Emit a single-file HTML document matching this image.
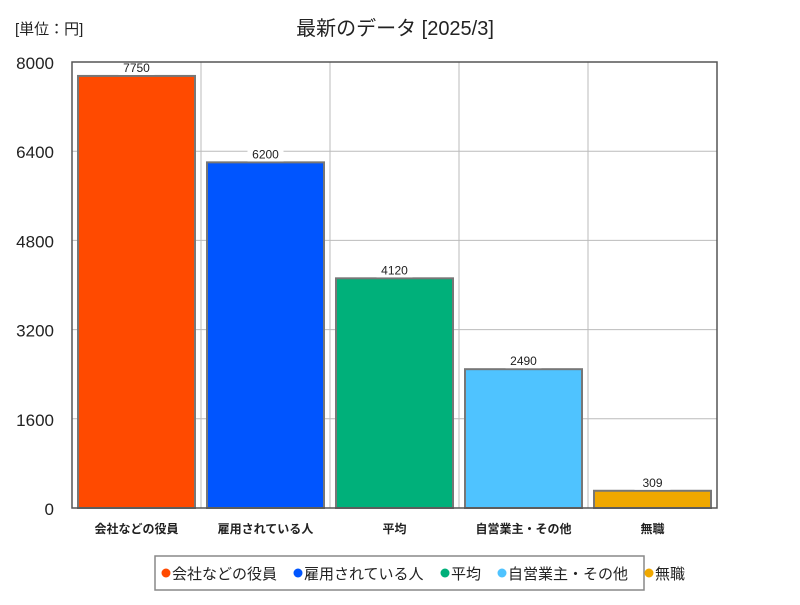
<!DOCTYPE html>
<html><head><meta charset="utf-8"><style>
body{margin:0;background:#fff;font-family:"Liberation Sans","Noto Sans CJK JP",sans-serif}
svg text{font-family:"Liberation Sans","Noto Sans CJK JP",sans-serif}
</style></head><body>
<svg id="c" width="800" height="600">
<text x="395" y="35" text-anchor="middle" font-size="20" fill="#222">最新のデータ [2025/3]</text>
<text x="15" y="34" font-size="15" fill="#222">[単位：円]</text>
<g id="grid"></g><g id="bars"></g><g id="axes"></g>
<g>
<rect x="155" y="556" width="489" height="34" fill="#fff" stroke="#888" stroke-width="1.5"></rect>
<g id="leg"></g></g>
</svg>
<script>
const categories=["会社などの役員","雇用されている人","平均","自営業主・その他","無職"];
const values=[7750,6200,4120,2490,309];
const colors=["#ff4a00","#0055ff","#00b07a","#4fc3ff","#f0a800"];
const yTicks=[0,1600,3200,4800,6400,8000];
const X0=72,X1=717,Y0=508,Y1=62,YMAX=8000;
const ns="http://www.w3.org/2000/svg";
const bw=(X1-X0)/categories.length;
function y(v){return Y0-(v/YMAX)*(Y0-Y1);}
function mk(t,a,p,txt){const e=document.createElementNS(ns,t);for(const k in a)e.setAttribute(k,a[k]);if(txt!==undefined)e.textContent=txt;p.appendChild(e);return e;}
const grid=document.getElementById('grid'),bars=document.getElementById('bars'),axes=document.getElementById('axes'),leg=document.getElementById('leg');
yTicks.forEach(t=>{
 const l=mk('line',{x1:X0,x2:X1,y1:y(t),y2:y(t),stroke:'#bbb'},grid);
 
 
 const tx=mk('text',{x:54,y:y(t)+7,'text-anchor':'end','font-size':17,fill:'#222'},axes,String(t));
 
 
});
for(let i=1;i<categories.length;i++){
 const l=mk('line',{x1:X0+i*bw,x2:X0+i*bw,y1:Y1,y2:Y0,stroke:'#bbb'},grid);
 
 
}
categories.forEach((c,i)=>{
 const x=X0+i*bw+6,w=bw-12;
 const r=mk('rect',{x:x,y:y(values[i]),width:w,height:Y0-y(values[i]),fill:colors[i],stroke:'#777','stroke-width':2},bars);
 
 
 const cx=X0+i*bw+bw/2;
 const bg=mk('rect',{x:cx-18,y:y(values[i])-15,width:36,height:14,fill:'#fff'},bars);
 
 
 const vt=mk('text',{x:cx,y:y(values[i])-4,'text-anchor':'middle','font-size':12,fill:'#222'},bars,String(values[i]));
 
 
 const ct=mk('text',{x:cx,y:533,'text-anchor':'middle','font-size':12,'font-weight':'bold',fill:'#222'},axes,c);
 
 
});
const fr=mk('rect',{x:X0,y:Y1,width:X1-X0,height:Y0-Y1,fill:'none',stroke:'#555','stroke-width':1.5},axes);


const lx=[166,288,420,477,599];
let cx=160;
categories.forEach((c,i)=>{
 const g=mk('g',{},leg);
 
 
 mk('circle',{cx:cx+6,cy:573,r:4.5,fill:colors[i]},g);
 mk('text',{x:cx+12,y:579,'font-size':15,fill:'#222'},g,c);
 cx+=12+c.length*15+15;
});
</script>
</body></html>
